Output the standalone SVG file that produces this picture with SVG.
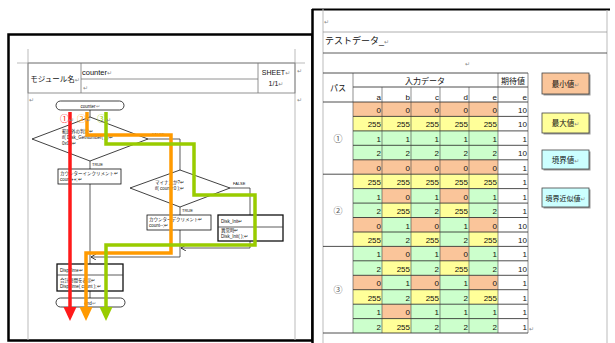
<svg xmlns="http://www.w3.org/2000/svg" width="615" height="343" viewBox="0 0 615 343">
<style>
text{font-family:"Liberation Sans","Noto Sans CJK JP",sans-serif;fill:#111}
.pg{stroke:#bbb;stroke-width:1;fill:none}
.hd{stroke:#777;stroke-width:0.8;fill:none}
.ft{font-size:4.5px}
.lb{font-size:4px}
.nd{fill:#fff;stroke:#111;stroke-width:0.8}
.db{fill:#fff;stroke:#111;stroke-width:1.3}
.cn{stroke:#333;stroke-width:0.8;fill:none}
.red{stroke:#ff1a1a;stroke-width:3.5;fill:none}
.org{stroke:#ff9a00;stroke-width:3.5;fill:none}
.grn{stroke:#99cc00;stroke-width:3.5;fill:none}
.O{fill:#fac59a}.Y{fill:#ffff99}.G{fill:#ccffcc}.C{fill:#ccffff}
.n{font-size:8px;text-anchor:end}
.rl{stroke:#222;stroke-width:0.8}
.vl{stroke:#444;stroke-width:0.6}
.rm{fill:#888;font-size:6px;font-family:"DejaVu Sans",sans-serif}
</style>
<defs>
<marker id="ah" markerWidth="6" markerHeight="6" refX="5" refY="3" orient="auto" markerUnits="userSpaceOnUse"><path d="M0,0 L5,3 L0,6" fill="none" stroke="#111" stroke-width="0.8"/></marker>
</defs>
<rect width="615" height="343" fill="#fff"/>

<!-- LEFT PANEL -->
<g id="left-panel">
<rect x="8.5" y="34.5" width="304" height="306" fill="#fff" stroke="#000" stroke-width="2.5"/>
<line class="pg" x1="17" y1="63" x2="305" y2="63"/>
<line class="pg" x1="28" y1="49" x2="28" y2="340"/>
<line class="pg" x1="295" y1="49" x2="295" y2="340"/>
<rect class="hd" x="28" y="63" width="267" height="30"/>
<line class="hd" x1="81" y1="63" x2="81" y2="93"/>
<line class="hd" x1="258" y1="63" x2="258" y2="93"/>
<line class="hd" x1="81" y1="79" x2="258" y2="79"/>
<text x="55" y="81.5" font-size="7.5" text-anchor="middle">モジュール名<tspan class="rm">↵</tspan></text>
<text x="82" y="75" font-size="7.5">counter<tspan class="rm">↵</tspan></text>
<text x="83" y="90" class="rm">↵</text>
<text x="276" y="75" font-size="7" text-anchor="middle">SHEET<tspan class="rm">↵</tspan></text>
<text x="276" y="86" font-size="7" text-anchor="middle">1/1<tspan class="rm">↵</tspan></text>
<text x="297" y="73" class="rm">↵</text>
<text x="297" y="102" class="rm">↵</text>
<text x="29" y="102" class="rm">↵</text>
</g>

<g id="connectors">
<polyline class="cn" points="90,110 90,117"/>
<polyline class="cn" points="148,139 180,139 180,170"/>
<polyline class="cn" points="90,161 90,169"/>
<polyline class="cn" points="90,184 90,264"/>
<polyline class="cn" points="230,188 250,188 250,215"/>
<polyline class="cn" points="180,207 180,215"/>
<polyline class="cn" points="250,241 250,248 181,248" marker-end="url(#ah)"/>
<polyline class="cn" points="180,230 180,257 91,257" marker-end="url(#ah)"/>
<polyline class="cn" points="90,291 90,298"/>
<text x="152" y="136" class="lb">FALSE</text>
<text x="92" y="166" class="lb">TRUE</text>
<text x="233" y="185" class="lb">FALSE</text>
<text x="182" y="212" class="lb">TRUE</text>
</g>

<g id="start">
<rect class="nd" x="56" y="101" width="68" height="9" rx="4.5"/>
<text x="90" y="107.5" class="ft" text-anchor="middle">counter<tspan fill="#888">↵</tspan></text>
</g>
<g id="decision1">
<polygon class="nd" points="32,139 90,117 148,139 90,161"/>
<text x="62" y="133" class="ft">範囲外の判定↵</text>
<text x="62" y="139" class="ft">if( Disk_GetNumber( ) )↵</text>
<text x="62" y="145" class="ft">0x0 )↵</text>
</g>
<g id="increment">
<rect class="nd" x="58" y="169" width="63" height="15"/>
<text x="60" y="175" class="ft">カウンターインクリメント↵</text>
<text x="60" y="181" class="ft">count++;↵</text>
</g>
<g id="decision2">
<polygon class="nd" points="130,188 180,170 230,188 180,207"/>
<text x="155" y="184" class="ft">マイナスか?↵</text>
<text x="155" y="190" class="ft">if( count&lt;0 );↵</text>
</g>
<g id="decrement">
<rect class="nd" x="147" y="215" width="64" height="15"/>
<text x="149" y="221" class="ft">カウンターデクリメント↵</text>
<text x="149" y="227" class="ft">count--;↵</text>
</g>
<g id="disk-init">
<rect class="db" x="218" y="215" width="65" height="26"/>
<line class="cn" x1="218" y1="227" x2="283" y2="227"/>
<text x="221" y="223" class="ft">Disk_Init↵</text>
<text x="221" y="232" class="ft">異常時↵</text>
<text x="221" y="238" class="ft">Disk_Init( );↵</text>
</g>
<g id="disp-time">
<rect class="db" x="57" y="264" width="66" height="27"/>
<line class="cn" x1="57" y1="275" x2="123" y2="275"/>
<text x="60" y="272" class="ft">DispTime↵</text>
<text x="60" y="282" class="ft">合計時間を表示↵</text>
<text x="60" y="288" class="ft">DispTime( count );↵</text>
</g>
<g id="end">
<rect class="nd" x="56" y="298" width="69" height="9" rx="4.5"/>
<text x="90" y="304.5" class="ft" text-anchor="middle">end<tspan fill="#888">↵</tspan></text>
</g>

<g id="paths">
<polyline class="red" points="70,112 70,308"/>
<polygon points="63.5,307 76.5,307 70,321" fill="#ff1a1a"/>
<polyline class="org" points="87,112 87,135 171,135 171,253 86,253 86,308"/>
<polygon points="79.5,307 92.5,307 86,321" fill="#ff9a00"/>
<polyline class="grn" points="106,112 106,144 194,144 194,195 255,195 255,245 106,245 106,308"/>
<polygon points="99.5,307 112.5,307 106,321" fill="#99cc00"/>
<text x="60" y="121.5" font-size="9" style="fill:#ff1a1a">①<tspan class="rm">↵</tspan></text>
<text x="77" y="121.5" font-size="9" style="fill:#ff9a00">②<tspan class="rm">↵</tspan></text>
<text x="97" y="121.5" font-size="9" style="fill:#99cc00">③<tspan class="rm">↵</tspan></text>
</g>

<!-- RIGHT PANEL -->
<g id="right-panel">
<rect x="312" y="9" width="303" height="334" fill="#fff"/>
<line x1="312" y1="9.5" x2="610" y2="9.5" stroke="#000" stroke-width="2"/>
<line x1="312.5" y1="9" x2="312.5" y2="343" stroke="#000" stroke-width="2.5"/>
<line class="pg" x1="323" y1="9" x2="323" y2="343"/>
<line class="pg" x1="607" y1="10" x2="607" y2="343"/>
<line x1="323" y1="32" x2="607" y2="32" stroke="#999" stroke-width="0.8"/>
<line x1="323" y1="53" x2="607" y2="53" stroke="#333" stroke-width="0.8"/>
<text x="324" y="24" class="rm">↵</text>
<text x="325" y="44" font-size="9">テストデータ_<tspan class="rm">↵</tspan></text>
<text x="465" y="66" class="rm">↵</text>
<text x="529" y="331" class="rm">↵</text>
</g>

<g id="test-table">
<g id="cells">
<rect class="O" x="353" y="102" width="145" height="14.4"/>
<rect class="Y" x="353" y="116.4" width="145" height="14.5"/>
<rect class="G" x="353" y="130.9" width="145" height="28.9"/>
<rect class="O" x="353" y="159.8" width="145" height="14.4"/>
<rect class="Y" x="353" y="174.2" width="145" height="14.4"/>
<g id="pat1">
<rect class="G" x="353" y="188.6" width="29" height="14.5"/><rect class="O" x="382" y="188.6" width="29" height="14.5"/><rect class="G" x="411" y="188.6" width="29" height="14.5"/><rect class="O" x="440" y="188.6" width="29" height="14.5"/><rect class="G" x="469" y="188.6" width="29" height="14.5"/>
<rect class="G" x="353" y="203.1" width="29" height="14.4"/><rect class="Y" x="382" y="203.1" width="29" height="14.4"/><rect class="G" x="411" y="203.1" width="29" height="14.4"/><rect class="Y" x="440" y="203.1" width="29" height="14.4"/><rect class="G" x="469" y="203.1" width="29" height="14.4"/>
<rect class="O" x="353" y="217.5" width="29" height="14.5"/><rect class="G" x="382" y="217.5" width="29" height="14.5"/><rect class="O" x="411" y="217.5" width="29" height="14.5"/><rect class="G" x="440" y="217.5" width="29" height="14.5"/><rect class="O" x="469" y="217.5" width="29" height="14.5"/>
<rect class="Y" x="353" y="232" width="29" height="14.4"/><rect class="G" x="382" y="232" width="29" height="14.4"/><rect class="Y" x="411" y="232" width="29" height="14.4"/><rect class="G" x="440" y="232" width="29" height="14.4"/><rect class="Y" x="469" y="232" width="29" height="14.4"/>
</g>
<g transform="translate(0,57.8)">
<rect class="G" x="353" y="188.6" width="29" height="14.5"/><rect class="O" x="382" y="188.6" width="29" height="14.5"/><rect class="G" x="411" y="188.6" width="29" height="14.5"/><rect class="O" x="440" y="188.6" width="29" height="14.5"/><rect class="G" x="469" y="188.6" width="29" height="14.5"/>
<rect class="G" x="353" y="203.1" width="29" height="14.4"/><rect class="Y" x="382" y="203.1" width="29" height="14.4"/><rect class="G" x="411" y="203.1" width="29" height="14.4"/><rect class="Y" x="440" y="203.1" width="29" height="14.4"/><rect class="G" x="469" y="203.1" width="29" height="14.4"/>
<rect class="O" x="353" y="217.5" width="29" height="14.5"/><rect class="G" x="382" y="217.5" width="29" height="14.5"/><rect class="O" x="411" y="217.5" width="29" height="14.5"/><rect class="G" x="440" y="217.5" width="29" height="14.5"/><rect class="O" x="469" y="217.5" width="29" height="14.5"/>
<rect class="Y" x="353" y="232" width="29" height="14.4"/><rect class="G" x="382" y="232" width="29" height="14.4"/><rect class="Y" x="411" y="232" width="29" height="14.4"/><rect class="G" x="440" y="232" width="29" height="14.4"/><rect class="Y" x="469" y="232" width="29" height="14.4"/>
</g>
<rect class="G" x="353" y="304.2" width="145" height="28.8"/>
<rect class="O" x="382" y="304.2" width="29" height="14.4"/>
<rect class="Y" x="382" y="318.6" width="29" height="14.4"/>
</g>

<g id="grid">
<line class="rl" x1="323" y1="73" x2="528" y2="73"/>
<line class="rl" x1="353" y1="87" x2="528" y2="87"/>
<line class="rl" x1="323" y1="102" x2="528" y2="102"/>
<line class="rl" x1="353" y1="116.4" x2="528" y2="116.4"/>
<line class="rl" x1="353" y1="130.9" x2="528" y2="130.9"/>
<line class="rl" x1="353" y1="145.3" x2="528" y2="145.3"/>
<line class="rl" x1="353" y1="159.8" x2="528" y2="159.8"/>
<line class="rl" x1="323" y1="174.2" x2="528" y2="174.2"/>
<line class="rl" x1="353" y1="188.6" x2="528" y2="188.6"/>
<line class="rl" x1="353" y1="203.1" x2="528" y2="203.1"/>
<line class="rl" x1="353" y1="217.5" x2="528" y2="217.5"/>
<line class="rl" x1="353" y1="232" x2="528" y2="232"/>
<line class="rl" x1="323" y1="246.4" x2="528" y2="246.4"/>
<line class="rl" x1="353" y1="260.8" x2="528" y2="260.8"/>
<line class="rl" x1="353" y1="275.3" x2="528" y2="275.3"/>
<line class="rl" x1="353" y1="289.7" x2="528" y2="289.7"/>
<line class="rl" x1="353" y1="304.2" x2="528" y2="304.2"/>
<line class="rl" x1="353" y1="318.6" x2="528" y2="318.6"/>
<line class="rl" x1="323" y1="333" x2="528" y2="333"/>
<line class="vl" x1="353" y1="73" x2="353" y2="333"/>
<line class="vl" x1="382" y1="87" x2="382" y2="333"/>
<line class="vl" x1="411" y1="87" x2="411" y2="333"/>
<line class="vl" x1="440" y1="87" x2="440" y2="333"/>
<line class="vl" x1="469" y1="87" x2="469" y2="333"/>
<line class="vl" x1="498" y1="73" x2="498" y2="333"/>
<line class="vl" x1="528" y1="73" x2="528" y2="333"/>
</g>

<g id="headers">
<text x="338" y="91" font-size="8" text-anchor="middle">パス</text>
<text x="425" y="84" font-size="8" text-anchor="middle">入力データ</text>
<text x="513" y="84" font-size="8" text-anchor="middle">期待値</text>
<text class="n" x="381" y="100">a</text>
<text class="n" x="410" y="100">b</text>
<text class="n" x="439" y="100">c</text>
<text class="n" x="468" y="100">d</text>
<text class="n" x="497" y="100">e</text>
<text class="n" x="527" y="100">e</text>
<text x="338" y="142" font-size="9" text-anchor="middle" style="fill:#555">①</text>
<text x="338" y="214" font-size="9" text-anchor="middle" style="fill:#555">②</text>
<text x="338" y="293" font-size="9" text-anchor="middle" style="fill:#555">③</text>
</g>

<g id="values">
<text class="n" x="381" y="113">0</text><text class="n" x="410" y="113">0</text><text class="n" x="439" y="113">0</text><text class="n" x="468" y="113">0</text><text class="n" x="497" y="113">0</text><text class="n" x="527" y="113">10</text>
<text class="n" x="381" y="127.4">255</text><text class="n" x="410" y="127.4">255</text><text class="n" x="439" y="127.4">255</text><text class="n" x="468" y="127.4">255</text><text class="n" x="497" y="127.4">255</text><text class="n" x="527" y="127.4">10</text>
<text class="n" x="381" y="141.9">1</text><text class="n" x="410" y="141.9">1</text><text class="n" x="439" y="141.9">1</text><text class="n" x="468" y="141.9">1</text><text class="n" x="497" y="141.9">1</text><text class="n" x="527" y="141.9">1</text>
<text class="n" x="381" y="156.3">2</text><text class="n" x="410" y="156.3">2</text><text class="n" x="439" y="156.3">2</text><text class="n" x="468" y="156.3">2</text><text class="n" x="497" y="156.3">2</text><text class="n" x="527" y="156.3">10</text>
<text class="n" x="381" y="170.8">0</text><text class="n" x="410" y="170.8">0</text><text class="n" x="439" y="170.8">0</text><text class="n" x="468" y="170.8">0</text><text class="n" x="497" y="170.8">0</text><text class="n" x="527" y="170.8">1</text>
<text class="n" x="381" y="185.2">255</text><text class="n" x="410" y="185.2">255</text><text class="n" x="439" y="185.2">255</text><text class="n" x="468" y="185.2">255</text><text class="n" x="497" y="185.2">255</text><text class="n" x="527" y="185.2">1</text>
<text class="n" x="381" y="199.6">1</text><text class="n" x="410" y="199.6">0</text><text class="n" x="439" y="199.6">1</text><text class="n" x="468" y="199.6">0</text><text class="n" x="497" y="199.6">1</text><text class="n" x="527" y="199.6">1</text>
<text class="n" x="381" y="214.1">2</text><text class="n" x="410" y="214.1">255</text><text class="n" x="439" y="214.1">2</text><text class="n" x="468" y="214.1">255</text><text class="n" x="497" y="214.1">2</text><text class="n" x="527" y="214.1">1</text>
<text class="n" x="381" y="228.5">0</text><text class="n" x="410" y="228.5">1</text><text class="n" x="439" y="228.5">0</text><text class="n" x="468" y="228.5">1</text><text class="n" x="497" y="228.5">0</text><text class="n" x="527" y="228.5">10</text>
<text class="n" x="381" y="243">255</text><text class="n" x="410" y="243">2</text><text class="n" x="439" y="243">255</text><text class="n" x="468" y="243">2</text><text class="n" x="497" y="243">255</text><text class="n" x="527" y="243">10</text>
<text class="n" x="381" y="257.4">1</text><text class="n" x="410" y="257.4">0</text><text class="n" x="439" y="257.4">1</text><text class="n" x="468" y="257.4">0</text><text class="n" x="497" y="257.4">1</text><text class="n" x="527" y="257.4">1</text>
<text class="n" x="381" y="271.8">2</text><text class="n" x="410" y="271.8">255</text><text class="n" x="439" y="271.8">2</text><text class="n" x="468" y="271.8">255</text><text class="n" x="497" y="271.8">2</text><text class="n" x="527" y="271.8">10</text>
<text class="n" x="381" y="286.3">0</text><text class="n" x="410" y="286.3">1</text><text class="n" x="439" y="286.3">0</text><text class="n" x="468" y="286.3">1</text><text class="n" x="497" y="286.3">0</text><text class="n" x="527" y="286.3">1</text>
<text class="n" x="381" y="300.7">255</text><text class="n" x="410" y="300.7">2</text><text class="n" x="439" y="300.7">255</text><text class="n" x="468" y="300.7">2</text><text class="n" x="497" y="300.7">255</text><text class="n" x="527" y="300.7">1</text>
<text class="n" x="381" y="315.2">1</text><text class="n" x="410" y="315.2">0</text><text class="n" x="439" y="315.2">1</text><text class="n" x="468" y="315.2">1</text><text class="n" x="497" y="315.2">1</text><text class="n" x="527" y="315.2">1</text>
<text class="n" x="381" y="329.6">2</text><text class="n" x="410" y="329.6">255</text><text class="n" x="439" y="329.6">2</text><text class="n" x="468" y="329.6">2</text><text class="n" x="497" y="329.6">2</text><text class="n" x="527" y="329.6">1</text>
</g>
</g>

<g id="legend-min">
<rect x="543.5" y="74.5" width="47" height="21" fill="#999"/>
<rect class="O" x="542" y="73" width="47" height="21" stroke="#444" stroke-width="0.8"/>
<text x="565.5" y="86.5" font-size="7.5" text-anchor="middle">最小値<tspan class="rm">↵</tspan></text>
</g>
<g id="legend-max">
<rect x="543.5" y="114.5" width="47" height="20" fill="#999"/>
<rect class="Y" x="542" y="113" width="47" height="20" stroke="#444" stroke-width="0.8"/>
<text x="565.5" y="126" font-size="7.5" text-anchor="middle">最大値<tspan class="rm">↵</tspan></text>
</g>
<g id="legend-boundary">
<rect x="543.5" y="151.5" width="47" height="19" fill="#999"/>
<rect class="C" x="542" y="150" width="47" height="19" stroke="#444" stroke-width="0.8"/>
<text x="565.5" y="162.5" font-size="7.5" text-anchor="middle">境界値<tspan class="rm">↵</tspan></text>
</g>
<g id="legend-near">
<rect x="543.5" y="189.5" width="47" height="19" fill="#999"/>
<rect class="C" x="542" y="188" width="47" height="19" stroke="#444" stroke-width="0.8"/>
<text x="565.5" y="200.5" font-size="7" text-anchor="middle">境界近似値<tspan class="rm">↵</tspan></text>
</g>
</svg>
